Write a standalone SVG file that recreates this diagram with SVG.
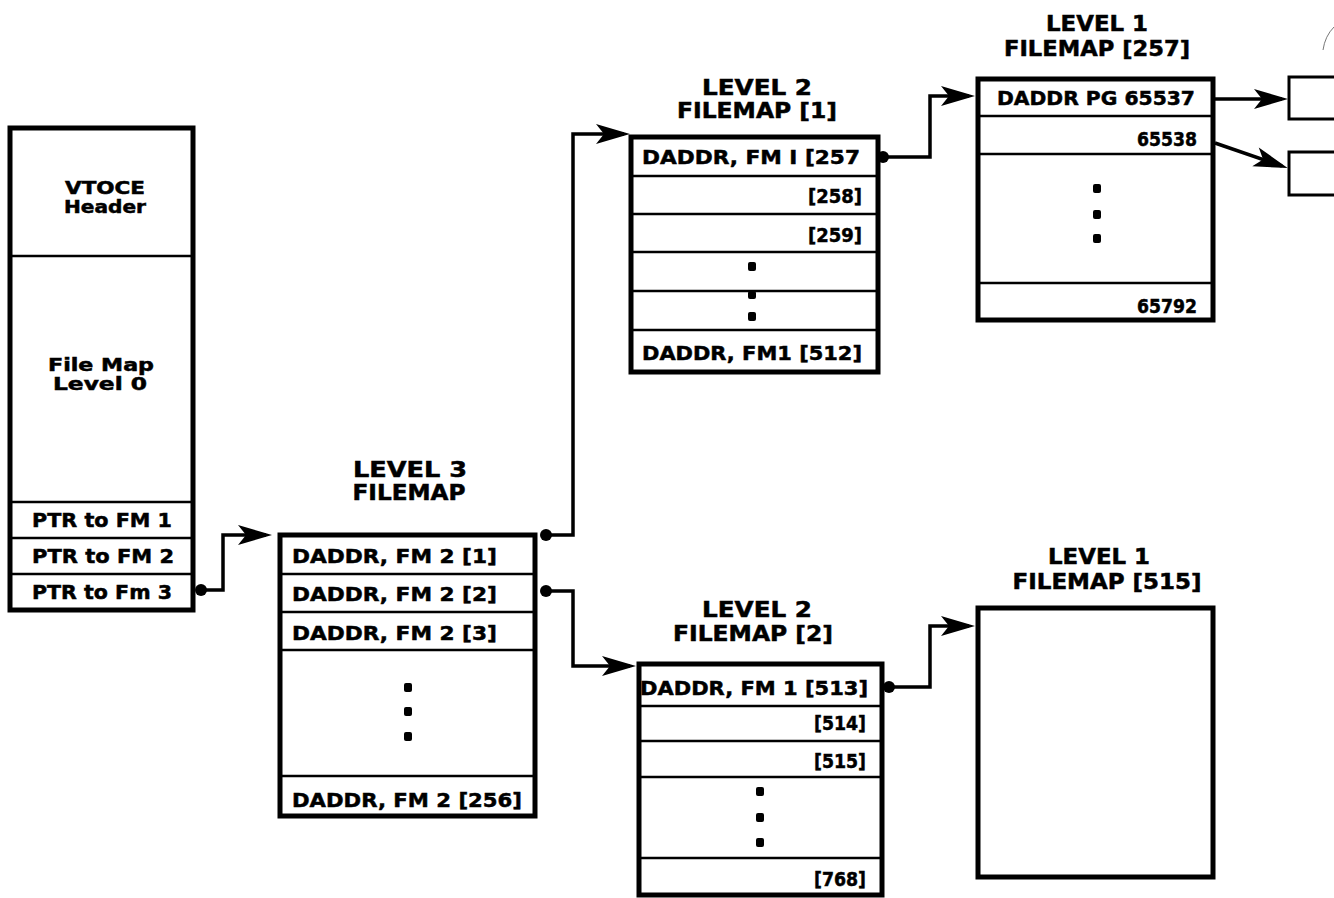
<svg xmlns="http://www.w3.org/2000/svg" width="1334" height="898" viewBox="0 0 1334 898">
<style>
.bx{fill:#fff;stroke:#000;stroke-width:5}
.dv{stroke:#000;stroke-width:2.5;fill:none}
.t{font-family:"DejaVu Sans","Liberation Sans",sans-serif;font-weight:bold;font-size:19px;fill:#000;stroke:#000;stroke-width:0.5}
.s{font-size:17px}
.tt{font-family:"DejaVu Sans","Liberation Sans",sans-serif;font-weight:bold;font-size:21px;fill:#000;stroke:#000;stroke-width:0.5}
.m{text-anchor:middle}
.e{text-anchor:end}
.cn{stroke:#000;stroke-width:3.5;fill:none;stroke-linejoin:miter}
.dot{fill:#000}
.sb{fill:#fff;stroke:#000;stroke-width:3}
</style>
<defs>
<marker id="ah" viewBox="-30 -11 38 22" refX="0" refY="0" markerWidth="38" markerHeight="22" markerUnits="userSpaceOnUse" orient="auto">
<path d="M6,0 L-28,-10 L-20,0 L-28,10 Z" fill="#000"/>
</marker>
</defs>
<rect width="1334" height="898" fill="#fff"/>

<g id="vtoce">
<rect class="bx" x="10" y="128" width="183" height="482"/>
<line class="dv" x1="10" y1="256" x2="193" y2="256"/>
<line class="dv" x1="10" y1="502" x2="193" y2="502"/>
<line class="dv" x1="10" y1="538" x2="193" y2="538"/>
<line class="dv" x1="10" y1="574" x2="193" y2="574"/>
<text class="t s m" x="105" y="194" textLength="80" lengthAdjust="spacingAndGlyphs">VTOCE</text>
<text class="t s m" x="105" y="213" textLength="82" lengthAdjust="spacingAndGlyphs">Header</text>
<text class="t s m" x="101" y="371" textLength="106" lengthAdjust="spacingAndGlyphs">File Map</text>
<text class="t s m" x="100" y="390" textLength="94" lengthAdjust="spacingAndGlyphs">Level 0</text>
<text class="t" x="32" y="527" textLength="140" lengthAdjust="spacingAndGlyphs">PTR to FM 1</text>
<text class="t" x="32" y="563" textLength="142" lengthAdjust="spacingAndGlyphs">PTR to FM 2</text>
<text class="t" x="32" y="599" textLength="140" lengthAdjust="spacingAndGlyphs">PTR to Fm 3</text>
</g>

<g id="level3">
<text class="tt m" x="410" y="477" textLength="114" lengthAdjust="spacingAndGlyphs">LEVEL 3</text>
<text class="tt m" x="409" y="500" textLength="113" lengthAdjust="spacingAndGlyphs">FILEMAP</text>
<rect class="bx" x="280" y="535" width="255" height="281"/>
<line class="dv" x1="280" y1="574" x2="535" y2="574"/>
<line class="dv" x1="280" y1="612" x2="535" y2="612"/>
<line class="dv" x1="280" y1="650" x2="535" y2="650"/>
<line class="dv" x1="280" y1="776" x2="535" y2="776"/>
<text class="t" x="292" y="563" textLength="205" lengthAdjust="spacingAndGlyphs">DADDR, FM 2 [1]</text>
<text class="t" x="292" y="601" textLength="205" lengthAdjust="spacingAndGlyphs">DADDR, FM 2 [2]</text>
<text class="t" x="292" y="640" textLength="205" lengthAdjust="spacingAndGlyphs">DADDR, FM 2 [3]</text>
<rect class="dot" x="404" y="683" width="8" height="9" rx="2"/>
<rect class="dot" x="404" y="707" width="8" height="9" rx="2"/>
<rect class="dot" x="404" y="732" width="8" height="9" rx="2"/>
<text class="t" x="292" y="807" textLength="230" lengthAdjust="spacingAndGlyphs">DADDR, FM 2 [256]</text>
</g>

<g id="level2-1">
<text class="tt m" x="757" y="95" textLength="110" lengthAdjust="spacingAndGlyphs">LEVEL 2</text>
<text class="tt m" x="757" y="118" textLength="160" lengthAdjust="spacingAndGlyphs">FILEMAP [1]</text>
<rect class="bx" x="631" y="137" width="247" height="235"/>
<line class="dv" x1="631" y1="176" x2="878" y2="176"/>
<line class="dv" x1="631" y1="214" x2="878" y2="214"/>
<line class="dv" x1="631" y1="252" x2="878" y2="252"/>
<line class="dv" x1="631" y1="291" x2="878" y2="291"/>
<line class="dv" x1="631" y1="330" x2="878" y2="330"/>
<text class="t" x="642" y="164" textLength="218" lengthAdjust="spacingAndGlyphs">DADDR, FM I [257</text>
<text class="t e" x="862" y="203" textLength="54" lengthAdjust="spacingAndGlyphs">[258]</text>
<text class="t e" x="862" y="242" textLength="54" lengthAdjust="spacingAndGlyphs">[259]</text>
<rect class="dot" x="748" y="262" width="8" height="9" rx="2"/>
<rect class="dot" x="748" y="291" width="8" height="8" rx="2"/>
<rect class="dot" x="748" y="312" width="8" height="9" rx="2"/>
<text class="t" x="642" y="360" textLength="220" lengthAdjust="spacingAndGlyphs">DADDR, FM1 [512]</text>
</g>

<g id="level1-257">
<text class="tt m" x="1097" y="31" textLength="102" lengthAdjust="spacingAndGlyphs">LEVEL 1</text>
<text class="tt m" x="1097" y="56" textLength="186" lengthAdjust="spacingAndGlyphs">FILEMAP [257]</text>
<rect class="bx" x="978" y="79" width="235" height="241"/>
<line class="dv" x1="978" y1="116" x2="1213" y2="116"/>
<line class="dv" x1="978" y1="154" x2="1213" y2="154"/>
<line class="dv" x1="978" y1="283" x2="1213" y2="283"/>
<text class="t" x="997" y="105" textLength="198" lengthAdjust="spacingAndGlyphs">DADDR PG 65537</text>
<text class="t e" x="1197" y="146" textLength="60" lengthAdjust="spacingAndGlyphs">65538</text>
<rect class="dot" x="1093" y="184" width="8" height="9" rx="2"/>
<rect class="dot" x="1093" y="210" width="8" height="9" rx="2"/>
<rect class="dot" x="1093" y="234" width="8" height="9" rx="2"/>
<text class="t e" x="1197" y="313" textLength="60" lengthAdjust="spacingAndGlyphs">65792</text>
</g>

<g id="page-65537">
<rect class="sb" x="1289" y="77" width="60" height="42"/>
</g>
<g id="page-65538">
<rect class="sb" x="1289" y="152" width="60" height="43"/>
</g>

<g id="level2-2">
<text class="tt m" x="757" y="617" textLength="110" lengthAdjust="spacingAndGlyphs">LEVEL 2</text>
<text class="tt m" x="753" y="641" textLength="160" lengthAdjust="spacingAndGlyphs">FILEMAP [2]</text>
<rect class="bx" x="639" y="664" width="243" height="231"/>
<line class="dv" x1="639" y1="706" x2="882" y2="706"/>
<line class="dv" x1="639" y1="741" x2="882" y2="741"/>
<line class="dv" x1="639" y1="777" x2="882" y2="777"/>
<line class="dv" x1="639" y1="858" x2="882" y2="858"/>
<text class="t" x="640" y="695" textLength="228" lengthAdjust="spacingAndGlyphs">DADDR, FM 1 [513]</text>
<text class="t e" x="866" y="730" textLength="52" lengthAdjust="spacingAndGlyphs">[514]</text>
<text class="t e" x="866" y="768" textLength="52" lengthAdjust="spacingAndGlyphs">[515]</text>
<rect class="dot" x="756" y="787" width="8" height="9" rx="2"/>
<rect class="dot" x="756" y="813" width="8" height="9" rx="2"/>
<rect class="dot" x="756" y="838" width="8" height="9" rx="2"/>
<text class="t e" x="866" y="886" textLength="52" lengthAdjust="spacingAndGlyphs">[768]</text>
</g>

<g id="level1-515">
<text class="tt m" x="1099" y="564" textLength="102" lengthAdjust="spacingAndGlyphs">LEVEL 1</text>
<text class="tt m" x="1107" y="589" textLength="189" lengthAdjust="spacingAndGlyphs">FILEMAP [515]</text>
<rect class="bx" x="978" y="608" width="235" height="269"/>
</g>

<g id="connectors">
<path class="cn" d="M198,590 H223 V535 H266" marker-end="url(#ah)"/>
<circle cx="201" cy="590" r="6"/>
<path class="cn" d="M541,535 H573 V134 H624" marker-end="url(#ah)"/>
<circle cx="546" cy="535" r="6"/>
<path class="cn" d="M541,591 H573 V666 H630" marker-end="url(#ah)"/>
<circle cx="546" cy="591" r="6"/>
<path class="cn" d="M880,157 H930 V96 H969" marker-end="url(#ah)"/>
<circle cx="883" cy="157" r="6"/>
<path class="cn" d="M884,687 H930 V626 H969" marker-end="url(#ah)"/>
<circle cx="889" cy="687" r="6"/>
<path class="cn" d="M1215,99 H1282" marker-end="url(#ah)"/>
<path class="cn" d="M1215,143 L1282,166" marker-end="url(#ah)"/>
<path d="M1323,50 Q1325,36 1334,27" fill="none" stroke="#777" stroke-width="1"/>
</g>
</svg>
